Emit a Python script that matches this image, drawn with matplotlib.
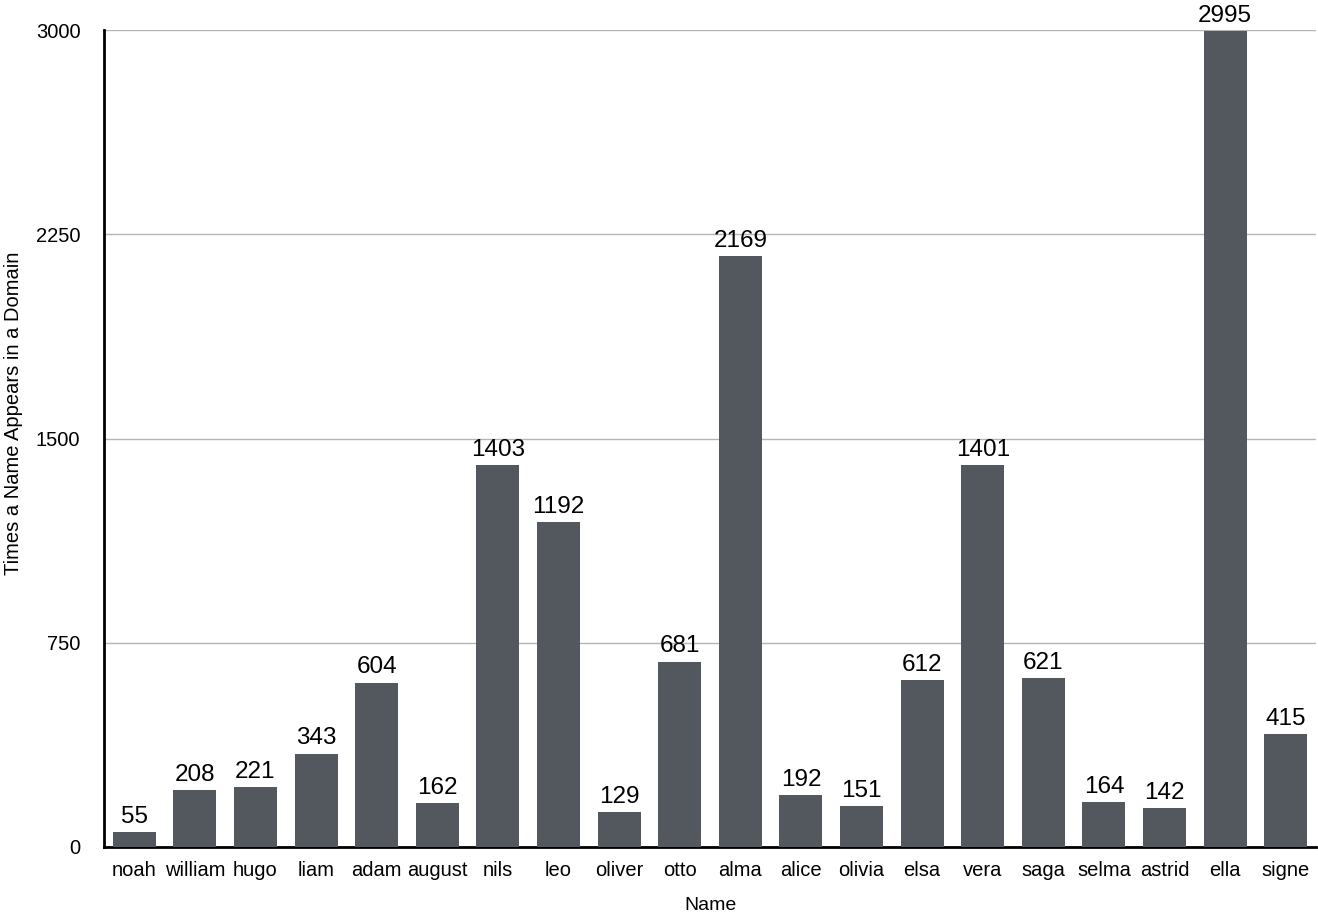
import matplotlib
matplotlib.use("Agg")
import matplotlib.pyplot as plt

names = ["noah", "william", "hugo", "liam", "adam", "august", "nils", "leo",
         "oliver", "otto", "alma", "alice", "olivia", "elsa", "vera", "saga",
         "selma", "astrid", "ella", "signe"]
counts = [55, 208, 221, 343, 604, 162, 1403, 1192, 129, 681, 2169, 192,
          151, 612, 1401, 621, 164, 142, 2995, 415]
y_ticks = [0, 750, 1500, 2250, 3000]

plt.rcParams["font.family"] = ["Liberation Sans", "DejaVu Sans"]

fig = plt.figure(figsize=(13.18, 9.14), dpi=100)
ax = fig.add_axes([104 / 1318, 1 - 847 / 914, (1316 - 104) / 1318, (847 - 30) / 914])

x = list(range(len(names)))
bars = ax.bar(x, counts, width=0.71, color="#53585f", zorder=3)
ax.bar_label(bars, labels=[str(c) for c in counts], padding=3, fontsize=17.5, color="black")

ax.set_xlim(-0.5, len(names) - 0.5)
ax.set_ylim(0, 3000)
ax.set_yticks(y_ticks)
ax.set_yticklabels([str(t) for t in y_ticks])
ax.set_xticks(x)
ax.set_xticklabels(names)
ax.tick_params(axis="y", length=0, pad=17, labelsize=14.5)
ax.tick_params(axis="x", length=0, pad=10, labelsize=14.5)

ax.grid(axis="y", color="#b5b5b5", linewidth=1, zorder=0)
ax.set_axisbelow(True)
for side in ["top", "right"]:
    ax.spines[side].set_visible(False)
ax.spines["left"].set_linewidth(2)
ax.spines["bottom"].set_linewidth(2)

ax.set_xlabel("Name", fontsize=14, labelpad=12)
fig.text(14 / 1318, 1 - 413 / 914, "Times a Name Appears in a Domain",
         rotation=90, ha="center", va="center", fontsize=14.5)

fig.savefig("out.png", dpi=100)
